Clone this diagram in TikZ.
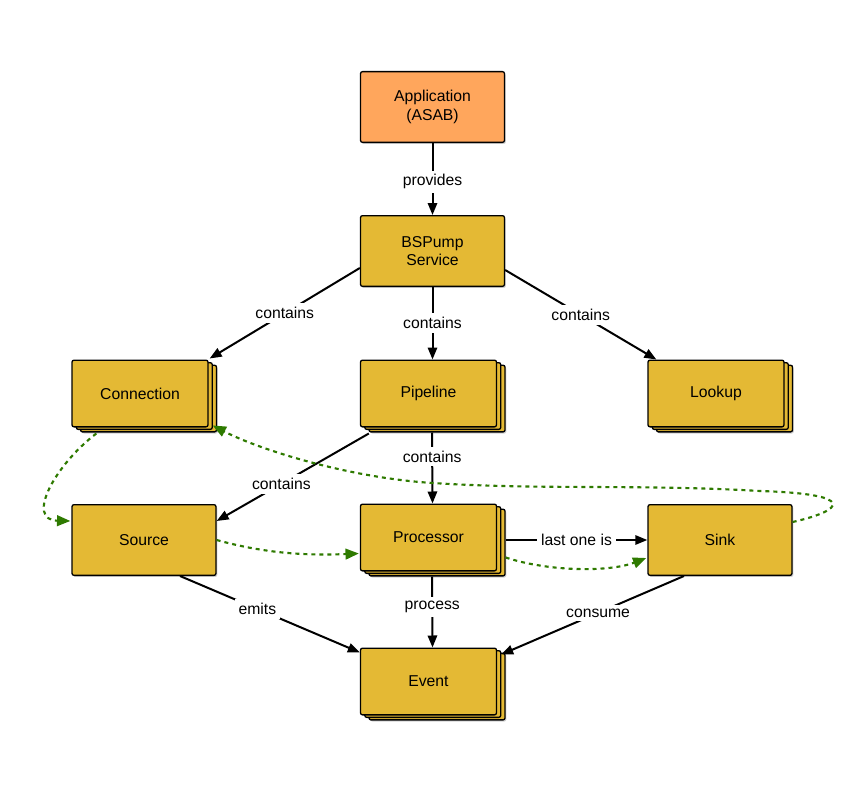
\documentclass[tikz,border=0pt]{standalone}
\usepackage{fontspec}
\setmainfont{Liberation Sans}
\usepackage{tikz}
\usetikzlibrary{arrows.meta,calc,shadows,positioning}
\definecolor{boxgold}{RGB}{228,185,52}
\definecolor{apporange}{RGB}{255,166,92}
\definecolor{flowgreen}{RGB}{46,122,0}

\begin{document}
\begin{tikzpicture}[x=0.75pt,y=-0.75pt,
  every node/.style={font=\fontsize{11.8}{14}\selectfont},
  box/.style={draw, line width=1pt, fill=boxgold, rounded corners=1.5pt, align=center,
    minimum width=108pt, minimum height=53pt, inner sep=0pt,
    general shadow={shadow xshift=1pt, shadow yshift=-1.2pt, fill=black!35, opacity=.5}},
  stackbox/.style={draw, line width=1pt, fill=boxgold, rounded corners=1.5pt, align=center,
    minimum width=102pt, minimum height=50pt, inner sep=0pt,
    general shadow={shadow xshift=7.4pt, shadow yshift=-5pt, fill=black!35, opacity=.5},
    copy shadow={shadow xshift=6.4pt, shadow yshift=-3.8pt, fill=boxgold, line width=1pt},
    copy shadow={shadow xshift=3.2pt, shadow yshift=-1.9pt, fill=boxgold, line width=1pt}},
  rel/.style={draw, line width=1.5pt, -{Triangle[length=9pt,width=7pt]}},
  lbl/.style={fill=white, inner sep=3pt},
  flow/.style={draw=flowgreen, line width=1.6pt, dash pattern=on 3pt off 3pt,
    -{Triangle[length=10pt,width=8pt]}}]
\useasboundingbox (0,0) rectangle (864,792);

% nodes
\node[box, fill=apporange] (app) at (432.5,107) {Application\\(ASAB)};
\node[box] (svc) at (432.5,251) {BSPump\\Service};
\node[stackbox] (conn) at (140,393.5) {Connection};
\node[stackbox] (pipe) at (428.5,393.5) {Pipeline};
\node[stackbox] (look) at (716,393.5) {Lookup};
\node[box] (src) at (144,540) {Source};
\node[stackbox] (proc) at (428.5,537.5) {Processor};
\node[box] (sink) at (720,540) {Sink};
\node[stackbox] (event) at (428.5,681.5) {Event};

% relations
\draw[rel] (app) -- node[lbl, pos=.54] {provides} (svc);
\draw[rel] ($(svc.west)+(0,17)$) -- node[lbl] {contains} ($(conn.north east)+(1,-1)$);
\draw[rel] (svc.south) -- node[lbl] {contains} (svc.south |- pipe.north);
\draw[rel] ($(svc.east)+(0,19)$) -- node[lbl] {contains} ($(look.north west)+(9,0)$);
\draw[rel] ($(pipe.south west)+(9,6)$) -- node[lbl, pos=.575] {contains} ($(src.east)+(0,-19)$);
\draw[rel] ($(pipe.south)+(3.5,5)$) -- node[lbl, pos=.34] {contains} (proc.north -| svc.south);
\draw[rel] ($(proc.east)+(8.5,2.5)$) -- node[lbl] {last one is} (sink.west);
\draw[rel] ($(proc.south)+(3.5,5)$) -- node[lbl, pos=.43] {process} (event.north -| svc.south);
\draw[rel] ($(src.south)+(36,0)$) -- node[lbl, pos=.43] {emits} ($(event.north west)+(0,5)$);
\draw[rel] ($(sink.south)+(-36,0)$) -- node[lbl, pos=.47] {consume} ($(event.north east)+(4,7)$);

% data flow
\draw[flow] ($(conn.south west)+(25,6)$) .. controls (55,465) and (25,520) .. ($(src.west)+(-1,-19)$);
\draw[flow] (src.east) .. controls (260,552) and (300,556) .. ($(proc.west)+(-1,16)$);
\draw[flow] ($(proc.south east)+(8.5,-14)$) .. controls (550,572) and (610,572) .. ($(sink.west)+(-1,18)$);
\draw[flow] ($(sink.east)+(0,-18)$) .. controls (845,510) and (858,494) .. (760,491)
  .. controls (640,484) and (540,490) .. (433,483)
  .. controls (350,478) and (260,450) .. ($(conn.south east)+(4,-2)$);
\end{tikzpicture}
\end{document}
